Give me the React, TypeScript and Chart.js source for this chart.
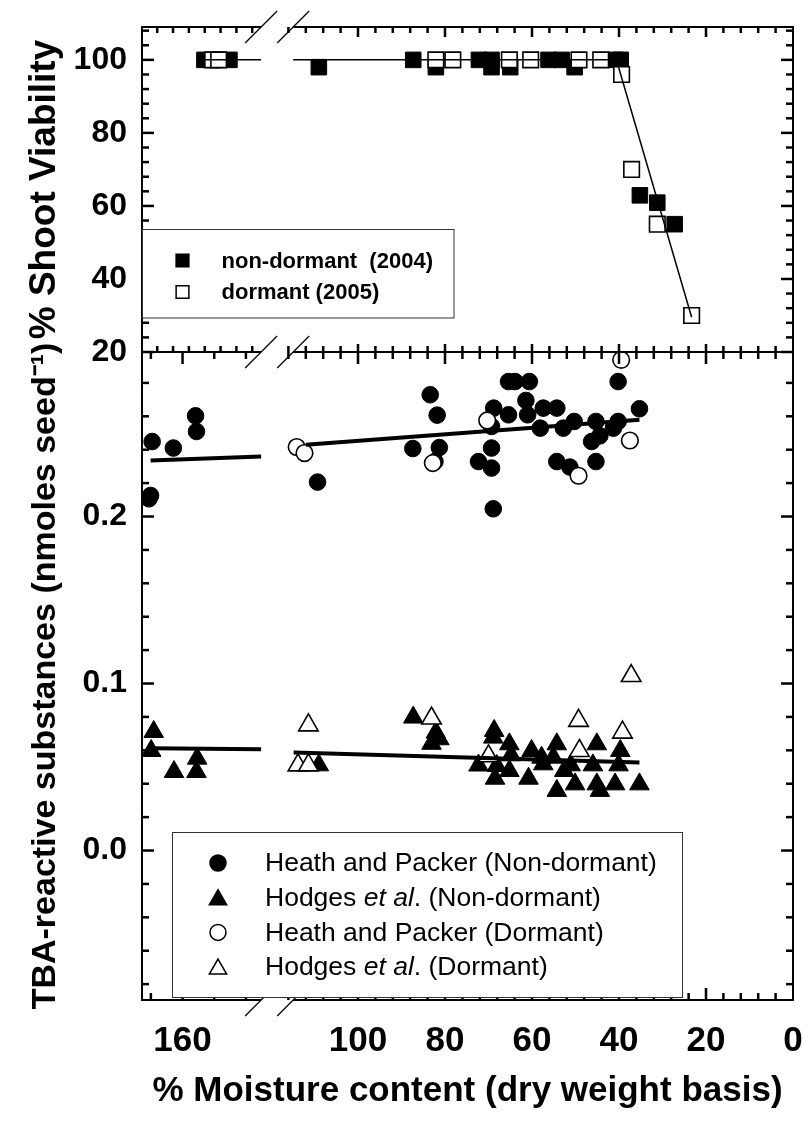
import React, { useEffect, useRef } from 'react';
import { Chart, registerables } from 'chart.js';

Chart.register(...registerables);

type P = [number, number];

// ---------------- Data ----------------
// Top panel: % shoot viability vs % moisture content
const viabNonDormantLeft: P[] = [[153.1, 100], [145.2, 100]];
const viabNonDormantRight: P[] = [
  [109, 98], [87.3, 100], [82.1, 98], [72.2, 100], [69.3, 100], [69.3, 98], [65.0, 98],
  [56.2, 100], [53.2, 100], [50.2, 98], [40.8, 100], [39.6, 100], [35.2, 62.9], [31.2, 60.9], [27.2, 55],
];
const viabDormantLeft: P[] = [[150.5, 100], [148.6, 100]];
const viabDormantRight: P[] = [
  [82.1, 100], [78.2, 100], [65.2, 100], [60.3, 100], [49.2, 100], [44.2, 100],
  [39.4, 96], [37.1, 70], [31.2, 55], [23.3, 30],
];
const viabFitLeft: P[] = [[153.1, 100], [135.2, 100]];
const viabFitRight: P[] = [[114.9, 100], [40.6, 100], [23.3, 29.5]];

// Bottom panel: TBA-reactive substances
const hpNonDormantLeft: P[] = [
  [169.6, 0.2449], [162.9, 0.2410], [155.9, 0.2603], [155.6, 0.2509], [170.1, 0.2126], [170.6, 0.2106],
];
const hpNonDormantRight: P[] = [
  [109.3, 0.2206], [83.4, 0.2729], [81.8, 0.2607], [87.4, 0.2407], [81.3, 0.2413], [82.3, 0.2329],
  [72.3, 0.2329], [68.8, 0.2649], [69.3, 0.2539], [69.3, 0.2410], [69.3, 0.2290], [68.9, 0.2046],
  [65.4, 0.2609], [65.4, 0.2808], [63.9, 0.2808], [60.6, 0.2808], [61.4, 0.2695], [61.0, 0.2609],
  [57.4, 0.2649], [54.3, 0.2649], [58.1, 0.2529], [52.8, 0.2529], [50.3, 0.2569], [54.3, 0.2329],
  [51.3, 0.2296], [45.3, 0.2569], [46.3, 0.2449], [44.4, 0.2483], [45.3, 0.2329], [40.2, 0.2808],
  [40.2, 0.2569], [41.3, 0.2529], [35.3, 0.2645],
];
const hpDormantRight: P[] = [
  [114.1, 0.2416], [112.3, 0.2380], [82.8, 0.2320], [70.3, 0.2575], [49.3, 0.2244], [39.5, 0.2938], [37.5, 0.2455],
];
const hodNonDormantLeft: P[] = [
  [169.1, 0.0711], [169.9, 0.0597], [162.7, 0.0471], [155.4, 0.0551], [155.6, 0.0471],
];
const hodNonDormantRight: P[] = [
  [109.0, 0.0511], [87.3, 0.0797], [82.1, 0.0707], [81.3, 0.0667], [83.1, 0.0640], [72.3, 0.0510],
  [68.7, 0.0717], [68.9, 0.0677], [65.2, 0.0637], [68.1, 0.0507], [68.5, 0.0431], [64.8, 0.0571],
  [65.2, 0.0477], [60.8, 0.0431], [60.1, 0.0597], [57.8, 0.0557], [57.4, 0.0517], [55.1, 0.0557],
  [54.3, 0.0637], [52.6, 0.0477], [51.1, 0.0511], [54.3, 0.0358], [50.1, 0.0397], [46.0, 0.0511],
  [45.1, 0.0637], [45.1, 0.0397], [44.4, 0.0358], [40.9, 0.0397], [39.7, 0.0597], [40.1, 0.0511],
  [35.3, 0.0397],
];
const hodDormantRight: P[] = [
  [111.4, 0.0750], [113.8, 0.0511], [111.4, 0.0511], [83.1, 0.0791], [70.0, 0.0565], [49.3, 0.0777],
  [49.1, 0.0597], [39.2, 0.0707], [37.2, 0.1046],
];
const hpFitLeft: P[] = [[170.1, 0.2335], [135.2, 0.2359]];
const hpFitRight: P[] = [[112.0, 0.2429], [35.3, 0.2579]];
const hodFitLeft: P[] = [[170.1, 0.0613], [135.2, 0.0607]];
const hodFitRight: P[] = [[114.8, 0.0587], [35.3, 0.0527]];

// Axis ranges and tick labels
const X_LEFT_MIN = 130.5;
const X_LEFT_MAX = 172.8;
const X_RIGHT_MIN = 0;
const X_RIGHT_MAX = 118.85;
const LEFT_BREAK = 135.2;
const RIGHT_BREAK = 114.9;
const xLeftTickLabels = [160];
const xRightTickLabels = [100, 80, 60, 40, 20, 0];
const Y_TOP_MIN = 20;
const Y_TOP_MAX = 109;
const Y_BOT_MIN = -0.0895;
const Y_BOT_MAX = 0.2985;
const yTopTickLabels = [20, 40, 60, 80, 100];
const yBotTickLabels = [0, 0.1, 0.2];

const X_TITLE = '% Moisture content (dry weight basis)';
const Y_TOP_TITLE = '% Shoot Viability';
const Y_BOT_TITLE = 'TBA-reactive substances (nmoles seed\u207B\u00B9)';

const topLegendItems = [
  { text: 'non-dormant  (2004)', style: 'rect', filled: true },
  { text: 'dormant (2005)', style: 'rect', filled: false },
];
const bottomLegendItems: { parts: [string, boolean][]; style: string; filled: boolean }[] = [
  { parts: [['Heath and Packer (Non-dormant)', false]], style: 'circle', filled: true },
  { parts: [['Hodges ', false], ['et al', true], ['. (Non-dormant)', false]], style: 'triangle', filled: true },
  { parts: [['Heath and Packer (Dormant)', false]], style: 'circle', filled: false },
  { parts: [['Hodges ', false], ['et al', true], ['. (Dormant)', false]], style: 'triangle', filled: false },
];

// ---------------- Styling helpers ----------------
const SANS = '"Liberation Sans", Arial, Helvetica, sans-serif';
const BLACK = '#000';

const pts = (a: P[]) => a.map(([x, y]) => ({ x, y }));

function markerDs(label: string, data: P[], xAxisID: string, yAxisID: string, style: string, filled: boolean, radius: number) {
  return {
    label,
    data: pts(data),
    xAxisID,
    yAxisID,
    showLine: false,
    pointStyle: style,
    pointRadius: radius,
    pointHoverRadius: radius,
    pointBackgroundColor: filled ? BLACK : '#fff',
    pointBorderColor: BLACK,
    pointBorderWidth: filled ? 1 : 1.6,
    order: filled ? 3 : 2,
  };
}

function lineDs(data: P[], xAxisID: string, yAxisID: string, width: number) {
  return {
    label: '',
    data: pts(data),
    xAxisID,
    yAxisID,
    showLine: true,
    borderColor: BLACK,
    borderWidth: width,
    pointRadius: 0,
    pointHoverRadius: 0,
    fill: false,
    order: 1,
  };
}

function drawMarker(ctx: CanvasRenderingContext2D, style: string, filled: boolean, x: number, y: number, r: number) {
  ctx.beginPath();
  if (style === 'circle') {
    ctx.arc(x, y, r, 0, Math.PI * 2);
  } else if (style === 'rect') {
    const s = r * Math.SQRT1_2;
    ctx.rect(x - s, y - s, 2 * s, 2 * s);
  } else {
    let a = 0;
    ctx.moveTo(x + Math.sin(a) * r, y - Math.cos(a) * r);
    a += (2 * Math.PI) / 3;
    ctx.lineTo(x + Math.sin(a) * r, y - Math.cos(a) * r);
    a += (2 * Math.PI) / 3;
    ctx.lineTo(x + Math.sin(a) * r, y - Math.cos(a) * r);
  }
  ctx.closePath();
  ctx.fillStyle = filled ? BLACK : '#fff';
  ctx.fill();
  ctx.lineWidth = 1.5;
  ctx.strokeStyle = BLACK;
  ctx.stroke();
}

const framePlugin = {
  id: 'brokenFrame',
  afterDraw(chart: any) {
    const ctx: CanvasRenderingContext2D = chart.ctx;
    const xL = chart.scales.xL, xR = chart.scales.xR, yT = chart.scales.yT, yB = chart.scales.yB;
    const L = xL.left, R = xR.right, T = yT.top, M = yT.bottom, B = yB.bottom;
    const bL = xL.getPixelForValue(LEFT_BREAK);
    const bR = xR.getPixelForValue(RIGHT_BREAK);
    const seg = (x1: number, y1: number, x2: number, y2: number) => {
      ctx.beginPath();
      ctx.moveTo(x1, y1);
      ctx.lineTo(x2, y2);
      ctx.stroke();
    };
    ctx.save();
    ctx.strokeStyle = BLACK;
    ctx.lineCap = 'butt';

    // frame
    ctx.lineWidth = 2;
    seg(L, T - 1, L, B + 1);
    seg(R, T - 1, R, B + 1);
    for (const y of [T, M, B]) {
      seg(L, y, bL, y);
      seg(bR, y, R, y);
    }

    // ticks
    ctx.lineWidth = 2.5;
    for (let k = 5; k <= 27; k++) {
      const v = k * 4;
      const py = yT.getPixelForValue(v);
      const len = v % 20 === 0 ? 12 : 7;
      seg(L, py, L + len, py);
      seg(R, py, R - len, py);
    }
    for (let k = -4; k <= 14; k++) {
      const py = yB.getPixelForValue(k * 0.02);
      const len = k % 5 === 0 ? 12 : 7;
      seg(L, py, L + len, py);
      seg(R, py, R - len, py);
    }
    for (let k = 1; k <= 29; k++) {
      const v = k * 4;
      const px = xR.getPixelForValue(v);
      const major = v % 20 === 0;
      seg(px, T, px, T + (major ? 10 : 6));
      seg(px, M, px, M - (major ? 8 : 6));
      seg(px, M, px, M + (major ? 12 : 7));
      seg(px, B, px, B - (major ? 12 : 7));
    }
    for (let v = 138; v <= 168; v += 5) {
      const px = xL.getPixelForValue(v);
      seg(px, T, px, T + 6);
      seg(px, M, px, M - 6);
    }
    for (let v = 140; v <= 170; v += 10) {
      const px = xL.getPixelForValue(v);
      const major = v === 160;
      seg(px, M, px, M + (major ? 12 : 7));
      seg(px, B, px, B - (major ? 12 : 7));
    }

    // break marks
    ctx.lineWidth = 1.2;
    for (const y of [T, M, B]) {
      for (const b of [bL, bR]) seg(b - 16, y + 16, b + 16, y - 16);
    }

    // top legend
    ctx.lineWidth = 1;
    ctx.strokeStyle = '#333';
    ctx.fillStyle = '#fff';
    ctx.fillRect(L, 229.5, 454 - L, 88.5);
    ctx.strokeRect(L + 0.5, 229.5, 454 - L - 0.5, 88.5);
    ctx.font = `bold 22px ${SANS}`;
    ctx.textBaseline = 'middle';
    ctx.textAlign = 'left';
    topLegendItems.forEach((it, i) => {
      const y = 260.5 + i * 31.5;
      drawMarker(ctx, it.style, it.filled, 182.5, y, 9);
      ctx.fillStyle = BLACK;
      ctx.fillText(it.text, 221.5, y + 1);
    });

    // bottom legend
    ctx.lineWidth = 1;
    ctx.strokeStyle = '#333';
    ctx.fillStyle = '#fff';
    ctx.fillRect(172, 832.5, 510, 165);
    ctx.strokeRect(172.5, 832.5, 510, 165);
    bottomLegendItems.forEach((it, i) => {
      const y = 863 + i * 34.7;
      drawMarker(ctx, it.style, it.filled, 218, it.style === 'triangle' ? y + 2 : y, it.style === 'triangle' ? 10 : 8);
      let x = 265;
      ctx.fillStyle = BLACK;
      for (const [txt, italic] of it.parts) {
        ctx.font = `${italic ? 'italic ' : ''}26.5px ${SANS}`;
        ctx.fillText(txt, x, y + 1);
        x += ctx.measureText(txt).width;
      }
    });
    ctx.restore();
  },
};

function fitX(s: any) {
  s.height = 70;
  s.paddingLeft = 0;
  s.paddingRight = 0;
  s.paddingTop = 0;
  s.paddingBottom = 0;
}
function fitY(s: any) {
  s.width = 142;
  s.paddingLeft = 0;
  s.paddingRight = 0;
  s.paddingTop = 0;
  s.paddingBottom = 0;
}

const xTickFont = { family: SANS, size: 35, weight: 'bold' as const, lineHeight: 1.2 };
const yTickFont = { family: SANS, size: 32, weight: 'bold' as const, lineHeight: 1.2 };

export default function App() {
  const ref = useRef<HTMLCanvasElement>(null);
  useEffect(() => {
    document.body.style.margin = '0';
    const datasets: any[] = [
      lineDs(viabFitLeft, 'xL', 'yT', 1.5),
      lineDs(viabFitRight, 'xR', 'yT', 1.5),
      lineDs(hpFitLeft, 'xL', 'yB', 4),
      lineDs(hpFitRight, 'xR', 'yB', 4),
      lineDs(hodFitLeft, 'xL', 'yB', 4),
      lineDs(hodFitRight, 'xR', 'yB', 4),
      markerDs('non-dormant (2004)', viabNonDormantLeft, 'xL', 'yT', 'rect', true, 11),
      markerDs('non-dormant (2004)', viabNonDormantRight, 'xR', 'yT', 'rect', true, 11),
      markerDs('dormant (2005)', viabDormantLeft, 'xL', 'yT', 'rect', false, 11),
      markerDs('dormant (2005)', viabDormantRight, 'xR', 'yT', 'rect', false, 11),
      markerDs('Heath and Packer (Non-dormant)', hpNonDormantLeft, 'xL', 'yB', 'circle', true, 8.3),
      markerDs('Heath and Packer (Non-dormant)', hpNonDormantRight, 'xR', 'yB', 'circle', true, 8.3),
      markerDs('Heath and Packer (Dormant)', hpDormantRight, 'xR', 'yB', 'circle', false, 8.3),
      markerDs('Hodges et al. (Non-dormant)', hodNonDormantLeft, 'xL', 'yB', 'triangle', true, 11.3),
      markerDs('Hodges et al. (Non-dormant)', hodNonDormantRight, 'xR', 'yB', 'triangle', true, 11.3),
      markerDs('Hodges et al. (Dormant)', hodDormantRight, 'xR', 'yB', 'triangle', false, 11.3),
    ];
    const chart = new Chart(ref.current as HTMLCanvasElement, {
      type: 'scatter',
      data: { datasets },
      options: {
        animation: false,
        responsive: false,
        events: [],
        layout: { padding: { left: 0, right: 11, top: 27, bottom: 0 }, autoPadding: false } as any,
        plugins: {
          legend: { display: false },
          tooltip: { enabled: false },
          title: {
            display: true,
            position: 'bottom',
            fullSize: false,
            text: X_TITLE,
            color: BLACK,
            font: { family: SANS, size: 35, weight: 'bold', lineHeight: 1.2 },
            padding: { top: 0, bottom: 10 },
          } as any,
        },
        scales: {
          xL: {
            type: 'linear', position: 'bottom', stack: 'h', stackWeight: 134, weight: 0,
            min: X_LEFT_MIN, max: X_LEFT_MAX, reverse: true,
            grid: { display: false, drawTicks: false }, border: { display: false },
            ticks: { color: BLACK, font: xTickFont, padding: 20, autoSkip: false, maxRotation: 0 },
            afterBuildTicks: (s: any) => { s.ticks = xLeftTickLabels.map((v) => ({ value: v })); },
            afterFit: fitX,
          },
          xR: {
            type: 'linear', position: 'bottom', stack: 'h', stackWeight: 517, weight: 1,
            min: X_RIGHT_MIN, max: X_RIGHT_MAX, reverse: true,
            grid: { display: false, drawTicks: false }, border: { display: false },
            ticks: { color: BLACK, font: xTickFont, padding: 20, autoSkip: false, maxRotation: 0 },
            afterBuildTicks: (s: any) => { s.ticks = xRightTickLabels.map((v) => ({ value: v })); },
            afterFit: fitX,
          },
          yB: {
            type: 'linear', position: 'left', stack: 'v', stackWeight: 648, weight: 0,
            min: Y_BOT_MIN, max: Y_BOT_MAX,
            grid: { display: false, drawTicks: false }, border: { display: false },
            ticks: { color: BLACK, font: yTickFont, padding: 15, autoSkip: false, callback: (v: any) => Number(v).toFixed(1) },
            afterBuildTicks: (s: any) => { s.ticks = yBotTickLabels.map((v) => ({ value: v })); },
            afterFit: fitY,
            title: {
              display: true, text: Y_BOT_TITLE, color: BLACK,
              font: { family: SANS, size: 34, weight: 'bold', lineHeight: 1.2 },
              padding: { top: 25, bottom: 0 },
            },
          },
          yT: {
            type: 'linear', position: 'left', stack: 'v', stackWeight: 325, weight: 1,
            min: Y_TOP_MIN, max: Y_TOP_MAX,
            grid: { display: false, drawTicks: false }, border: { display: false },
            ticks: { color: BLACK, font: yTickFont, padding: 15, autoSkip: false },
            afterBuildTicks: (s: any) => { s.ticks = yTopTickLabels.map((v) => ({ value: v })); },
            afterFit: fitY,
            title: {
              display: true, text: Y_TOP_TITLE, color: BLACK,
              font: { family: SANS, size: 37, weight: 'bold', lineHeight: 1.2 },
              padding: { top: 23, bottom: 0 },
            },
          },
        } as any,
      },
      plugins: [framePlugin],
    });
    return () => chart.destroy();
  }, []);
  return (
    <div style={{ width: 804, height: 1122, background: '#fff', overflow: 'hidden' }}>
      <canvas ref={ref} width={804} height={1122} style={{ display: 'block' }} />
    </div>
  );
}
